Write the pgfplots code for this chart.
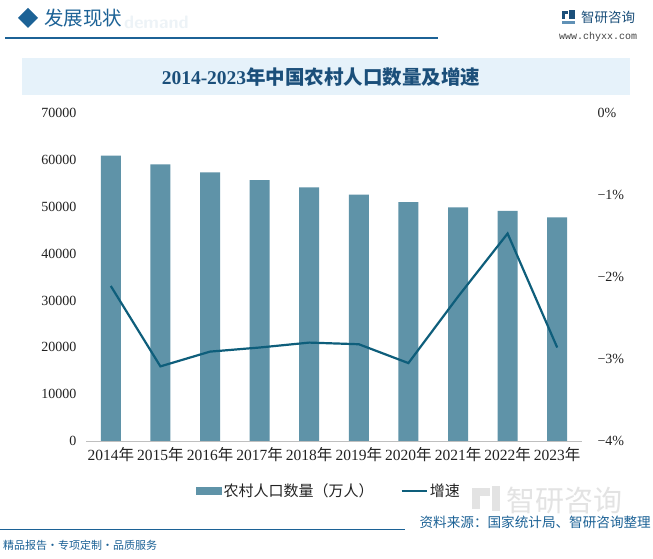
\documentclass[border=0pt]{standalone}
\usepackage{pgfplots}
\pgfplotsset{compat=1.18}
\usepackage{fontspec}
\setmainfont{Liberation Serif}
\setmonofont{Liberation Mono}
\newfontfamily\cjk{Noto Sans CJK SC}
\newfontfamily\cjkb{Noto Sans CJK SC Bold}
\definecolor{barc}{HTML}{5F93A8}
\definecolor{linec}{HTML}{0E5E7B}
\definecolor{titc}{HTML}{1B4F7A}
\definecolor{hdr}{HTML}{1C6296}
\definecolor{boxc}{HTML}{E6F2FA}
\definecolor{txt}{HTML}{222222}
\pgfplotstableread{
x pop rate
0 60908 -2.11
1 59024 -3.09
2 57308 -2.91
3 55668 -2.86
4 54108 -2.80
5 52582 -2.82
6 50979 -3.05
7 49835 -2.24
8 49104 -1.47
9 47700 -2.86
}\data
\begin{document}
\begin{tikzpicture}
\useasboundingbox (0,0) rectangle (653bp,559bp);
\fill[white] (0,0) rectangle (653bp,559bp);
% header
\fill[hdr] (28bp,551bp) -- (38bp,541bp) -- (28bp,531bp) -- (18bp,541bp) -- cycle;
\node[anchor=west, text=hdr, font=\fontsize{19.5bp}{20bp}\cjk, inner sep=0] at (44bp,541bp) {发展现状};
\node[anchor=west, text=hdr!8, font=\fontsize{18bp}{18bp}\sffamily\bfseries, inner sep=0] at (124bp,537bp) {demand};
\draw[hdr, line width=1.2bp] (5bp,521bp) -- (438bp,521bp);
% logo
\fill[titc] (562bp,545bp) rectangle (568bp,548bp);
\fill[titc] (562bp,540bp) rectangle (565bp,545bp);
\fill[titc] (569bp,540bp) rectangle (575bp,549bp);
\fill[hdr!70] (562bp,535bp) rectangle (575bp,538bp);
\node[anchor=west, text=titc, font=\fontsize{13.5bp}{14bp}\cjk, inner sep=0] at (581bp,542bp) {智研咨询};
\node[anchor=west, text=txt!85, font=\fontsize{10bp}{10bp}\ttfamily, inner sep=0] at (559bp,522bp) {www.chyxx.com};
% title box
\fill[boxc] (22bp,464bp) rectangle (630bp,501bp);
\node[text=titc, font=\fontsize{19.5bp}{20bp}\bfseries, inner sep=0] at (321bp,482bp) {2014-2023\cjkb 年中国农村人口数量及增速};
% watermark bottom right
\node[anchor=west, text=gray!22, font=\fontsize{29bp}{29bp}\cjk, inner sep=0] at (506bp,58bp) {智研咨询};
\fill[gray!22] (472bp,63bp) rectangle (490bp,71bp);
\fill[gray!22] (472bp,50bp) rectangle (480bp,63bp);
\fill[gray!22] (492bp,48bp) rectangle (500bp,73bp);
% footer
\draw[hdr, line width=1bp] (0bp,29bp) -- (405bp,29bp);
\node[anchor=east, text=hdr, font=\fontsize{13.6bp}{14bp}\cjk, inner sep=0] at (651bp,37bp) {资料来源：国家统计局、智研咨询整理};
\node[anchor=west, text=hdr, font=\fontsize{11bp}{12bp}\cjk, inner sep=0] at (3bp,14bp) {精品报告·专项定制·品质服务};
% bars
\begin{axis}[
  at={(86bp,118bp)}, anchor=south west, scale only axis,
  width=496bp, height=328bp,
  xmin=-0.5, xmax=9.5, ymin=0, ymax=70000,
  axis y line*=left, axis x line*=bottom,
  y axis line style={draw=none},
  x axis line style={draw=gray!50, line width=0.8bp},
  xtick={0,...,9},
  xticklabels={2014\cjk 年,2015\cjk 年,2016\cjk 年,2017\cjk 年,2018\cjk 年,2019\cjk 年,2020\cjk 年,2021\cjk 年,2022\cjk 年,2023\cjk 年},
  ytick={0,10000,...,70000},
  scaled y ticks=false,
  /pgf/number format/1000 sep={},
  /pgf/number format/assume math mode=true,
  major tick length=0,
  tick label style={text=txt},
  yticklabel style={font=\fontsize{14bp}{14bp}\selectfont, xshift=-6bp},
  xticklabel style={font=\fontsize{15.5bp}{16bp}\selectfont, yshift=-6bp, inner sep=0},
  clip=false,
]
\addplot[ybar, bar width=20bp, fill=barc, draw=none] table[x=x, y=pop] {\data};
\end{axis}
\begin{axis}[
  at={(86bp,118bp)}, anchor=south west, scale only axis,
  width=496bp, height=328bp,
  xmin=-0.5, xmax=9.5, ymin=-4, ymax=0,
  axis y line*=right, axis x line=none,
  y axis line style={draw=none},
  ytick={-4,-3,-2,-1,0},
  yticklabels={−4\%,−3\%,−2\%,−1\%,0\%},
  major tick length=0,
  yticklabel style={font=\fontsize{14bp}{14bp}\selectfont, anchor=west, xshift=12bp, text=txt},
  legend columns=2,
  legend style={draw=none, fill=none, at={(0.49,-0.152)}, anchor=center,
    font=\fontsize{15bp}{15bp}\cjk, text=txt,
    /tikz/every even column/.append style={column sep=25bp}},
  legend cell align=left,
]
\addlegendimage{area legend, legend image code/.code={\fill[barc] (0bp,-3.5bp) rectangle (25bp,3.5bp);}}
\addlegendentry{农村人口数量（万人）}
\addplot[linec, line width=2.2bp, no marks, legend image code/.code={\draw[linec, line width=2.2bp] (0bp,0bp) -- (25bp,0bp);}] table[x=x, y=rate] {\data};
\addlegendentry{增速}
\end{axis}
\end{tikzpicture}
\end{document}
